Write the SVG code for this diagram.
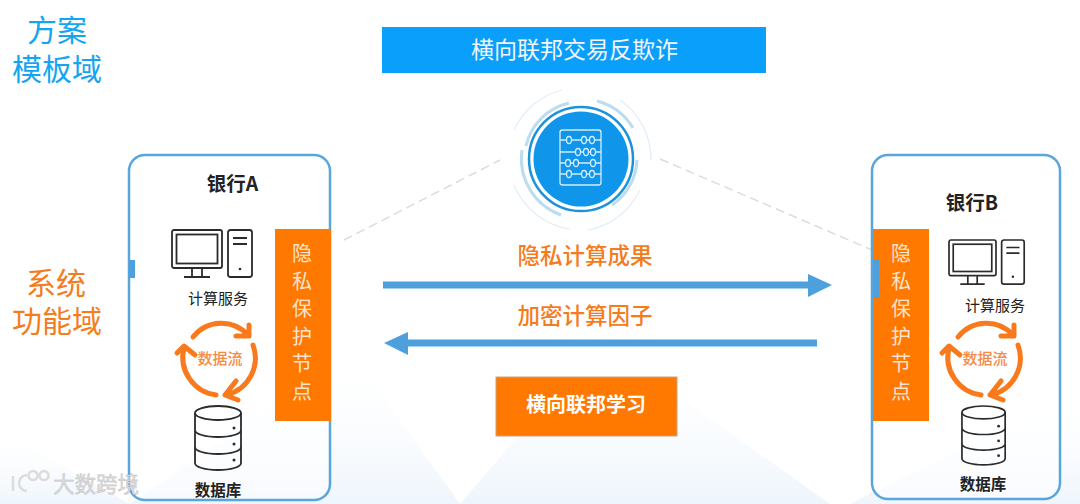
<svg xmlns="http://www.w3.org/2000/svg" width="1080" height="504" viewBox="0 0 1080 504">
<style>
text{font-family:"Noto Sans CJK SC","Liberation Sans",sans-serif}
.bank{fill:#fff;fill-opacity:.55;stroke:#5aa5dc;stroke-width:2.5}
.org{fill:#ff7800}
.ic{fill:none;stroke:#2b2b2b;stroke-width:1.8}
.flow{fill:none;stroke:#f97a1c;stroke-width:5;stroke-linecap:round;stroke-linejoin:round}
.node{fill:#fbe3d0;font-size:20px;text-anchor:middle}
.t{fill:#222;text-anchor:middle}
.ring{fill:none;stroke:#bcdcf0}
.faint{fill:none;stroke:#e2eef7;stroke-width:1.2}
</style>
<defs>
<linearGradient id="bg" x1="0" y1="0" x2="0" y2="1"><stop offset="0" stop-color="#fff" stop-opacity="0"/><stop offset="1" stop-color="#eef5fc"/></linearGradient>
<g id="pc">
<rect x="0" y="0" width="50" height="38" rx="2" class="ic"/><rect x="4.500" y="4.500" width="41" height="29" class="ic"/>
<path d="M20 38v9M30 38v9M12 47h26" class="ic"/>
<rect x="56" y="0" width="24" height="47" rx="2.500" class="ic"/><path d="M61 8h14M61 14h14" class="ic"/><circle cx="68" cy="39" r="1.300" fill="#2b2b2b"/>
</g>
<g id="db">
<ellipse cx="24" cy="7" rx="23" ry="7" class="ic" fill="#fff"/>
<path d="M1 7v50c0 4 10 7 23 7s23-3 23-7V7M1 24c0 4 10 7 23 7s23-3 23-7M1 41c0 4 10 7 23 7s23-3 23-7" class="ic"/>
<circle cx="40" cy="22" r="1.500" fill="#2b2b2b"/><circle cx="40" cy="38" r="1.500" fill="#2b2b2b"/><circle cx="40" cy="54" r="1.500" fill="#2b2b2b"/>
</g>
<g id="cycle">
<path class="flow" d="M-27-21A36 36 0 0 1 28-23M29-33V-22H16"/>
<path class="flow" d="M33-13A38 38 0 0 1 6 37M16 23L5 37L18 42"/>
<path class="flow" d="M-4 37A38 38 0 0 1-36-10M-43-5L-36-12L-25-3"/>
<text x="0" y="6" font-size="15" font-weight="500" fill="#f58a45" text-anchor="middle">数据流</text>
</g>
</defs>
<rect width="1080" height="504" fill="#fff"/>
<polygon points="0,504 0,430 130,504" fill="url(#bg)"/><polygon points="130,504 350,350 460,504" fill="url(#bg)"/><polygon points="460,504 600,340 830,504" fill="url(#bg)"/><polygon points="850,504 1080,390 1080,504" fill="url(#bg)"/>

<g id="title1"><text x="57" y="41" font-size="30" fill="#14a5f0" text-anchor="middle">方案</text><text x="57" y="80" font-size="30" fill="#14a5f0" text-anchor="middle">模板域</text></g>
<g id="title2"><text x="56" y="294" font-size="30" fill="#f57c1c" text-anchor="middle">系统</text><text x="57" y="332" font-size="30" fill="#f57c1c" text-anchor="middle">功能域</text></g>

<g id="header"><rect x="382" y="27" width="384" height="46" fill="#0a9ffa"/><text x="574.500" y="58" font-size="23" fill="#f2f6fa" text-anchor="middle">横向联邦交易反欺诈</text></g>

<g id="connectors">
<path d="M344 240L500 160M660 159L872 250" stroke="#dcdcdc" stroke-width="1.500" stroke-dasharray="9 5" fill="none"/>
<path d="M383 285H812" stroke="#4ea0dc" stroke-width="7" fill="none"/><polygon points="808,274 832,285 808,297" fill="#4ea0dc"/>
<path d="M817 343H405" stroke="#4ea0dc" stroke-width="7" fill="none"/><polygon points="408,332 384,343 408,355" fill="#4ea0dc"/>
</g>
<g id="labels"><text x="585" y="264" font-size="22.500" font-weight="500" fill="#f57c1c" text-anchor="middle">隐私计算成果</text><text x="585" y="324" font-size="22.500" font-weight="500" fill="#f57c1c" text-anchor="middle">加密计算因子</text></g>

<g id="hub">
<circle cx="581" cy="159" r="52" fill="none" stroke="#1c92dc" stroke-width="2.500"/>
<circle cx="581" cy="159" r="47.500" fill="#0f96ea"/>
<path class="ring" stroke-width="3" d="M569 103A57 57 0 0 0 526 146M597 101A60 60 0 0 1 633 128M637 160A57 57 0 0 1 612 205M561 215A60 60 0 0 1 522 150"/>
<path class="faint" d="M562 90A72 72 0 0 0 514 130M620 100A72 72 0 0 1 651 160M640 190A72 72 0 0 1 588 230M570 229A72 72 0 0 1 514 185"/>
<g fill="none" stroke="#d4ecfb" stroke-width="1.300">
<rect x="560" y="130" width="41" height="55" rx="2.500"/>
<path d="M560 140H601M560 152H601M560 163H601M560 174H601"/>
<ellipse cx="569" cy="140" rx="2.500" ry="3.500" fill="#0f96ea"/><ellipse cx="584" cy="140" rx="2.500" ry="3.500" fill="#0f96ea"/><ellipse cx="592" cy="140" rx="2.500" ry="3.500" fill="#0f96ea"/>
<ellipse cx="578" cy="152" rx="2.500" ry="3.500" fill="#0f96ea"/><ellipse cx="586" cy="152" rx="2.500" ry="3.500" fill="#0f96ea"/><ellipse cx="593" cy="152" rx="2.500" ry="3.500" fill="#0f96ea"/>
<ellipse cx="568" cy="163" rx="2.500" ry="3.500" fill="#0f96ea"/><ellipse cx="576" cy="163" rx="2.500" ry="3.500" fill="#0f96ea"/><ellipse cx="593" cy="163" rx="2.500" ry="3.500" fill="#0f96ea"/>
<ellipse cx="569" cy="174" rx="2.500" ry="3.500" fill="#0f96ea"/><ellipse cx="584" cy="174" rx="2.500" ry="3.500" fill="#0f96ea"/><ellipse cx="592" cy="174" rx="2.500" ry="3.500" fill="#0f96ea"/>
</g>
</g>

<g id="bankA">
<rect x="129" y="155" width="201" height="345" rx="16" class="bank"/>
<rect x="129" y="260" width="6" height="18" fill="#4ea0dc"/>
<text x="232.500" y="191" font-size="19.500" font-weight="700" class="t">银行A</text>
<use href="#pc" x="172" y="230"/>
<text x="218" y="304" font-size="15" class="t">计算服务</text>
<use href="#cycle" x="220" y="358"/>
<use href="#db" x="194" y="406"/>
<text x="218" y="496" font-size="15.500" font-weight="700" class="t">数据库</text>
</g>
<g id="nodeA"><rect x="275" y="229" width="56" height="192" class="org"/>
<text x="302" y="261" class="node">隐</text><text x="302" y="288.500" class="node">私</text><text x="302" y="316" class="node">保</text><text x="302" y="343.500" class="node">护</text><text x="302" y="371" class="node">节</text><text x="302" y="398.500" class="node">点</text></g>

<g id="bankB">
<rect x="872" y="155" width="188" height="344" rx="16" class="bank"/>
<text x="972" y="210" font-size="19.500" font-weight="700" class="t">银行B</text>
<use href="#pc" transform="translate(949 240) scale(.94)"/>
<text x="995" y="311" font-size="15" class="t">计算服务</text>
<use href="#cycle" x="985" y="358"/>
<use href="#db" transform="translate(961 406) scale(.94 .92)"/>
<text x="983" y="490" font-size="15.500" font-weight="700" class="t">数据库</text>
</g>
<g id="nodeB"><rect x="873" y="229" width="56" height="192" class="org"/>
<rect x="873" y="260" width="6" height="38" fill="#4ea0dc"/>
<text x="901" y="261" class="node">隐</text><text x="901" y="288.500" class="node">私</text><text x="901" y="316" class="node">保</text><text x="901" y="343.500" class="node">护</text><text x="901" y="371" class="node">节</text><text x="901" y="398.500" class="node">点</text></g>

<g id="federated"><rect x="496" y="377" width="181" height="59" class="org" stroke="#c9a27a" stroke-width="1"/><text x="586" y="412" font-size="20" font-weight="700" fill="#fff" text-anchor="middle">横向联邦学习</text></g>

<g id="watermark">
<text x="96" y="492" font-size="21.500" fill="#dcdcdc" stroke="#bdbdbd" stroke-width=".4" text-anchor="middle">大数跨境</text>
<path d="M13 476v15M27 475a8 8 0 0 0 0 16M33 471a4.500 4.500 0 1 0 .1 0M44 471a4.500 4.500 0 1 0 .1 0" fill="none" stroke="#dcdcdc" stroke-width="2.500"/>
</g>
</svg>
